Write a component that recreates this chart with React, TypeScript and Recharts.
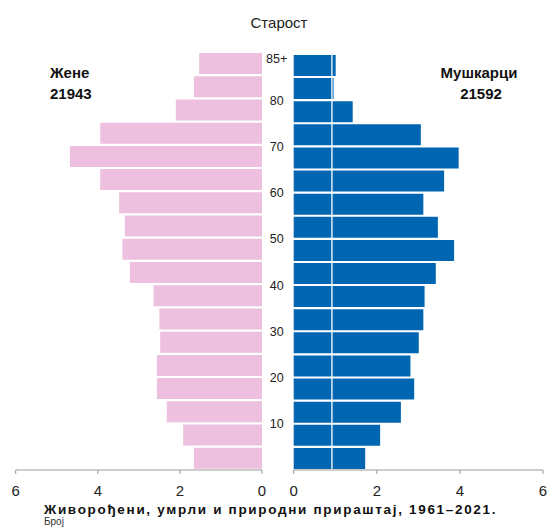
import { BarChart, Bar, XAxis, YAxis, ReferenceLine } from 'recharts';

const ageGroups = [
  '0-4', '5-9', '10-14', '15-19', '20-24', '25-29', '30-34', '35-39', '40-44',
  '45-49', '50-54', '55-59', '60-64', '65-69', '70-74', '75-79', '80-84', '85+',
];
const women = [1.66, 1.92, 2.32, 2.56, 2.56, 2.48, 2.5, 2.64, 3.22, 3.4, 3.34, 3.48, 3.94, 4.68, 3.94, 2.1, 1.66, 1.53];
const men = [1.72, 2.08, 2.58, 2.9, 2.81, 3.01, 3.12, 3.15, 3.42, 3.86, 3.47, 3.12, 3.62, 3.97, 3.06, 1.42, 0.96, 1.01];
const xTicks = [0, 2, 4, 6];
// age label shown for a group (at the lower edge of its row), empty = no label
const ageLabels: Record<string, string> = {
  '85+': '85+', '80-84': '80', '70-74': '70', '60-64': '60', '50-54': '50',
  '40-44': '40', '30-34': '30', '20-24': '20', '10-14': '10',
};

const data = ageGroups.map((age, i) => ({ age, women: women[i], men: men[i] }));

const FONT = '"Liberation Sans", Arial, Helvetica, sans-serif';
const PINK = '#ecc0de';
const BLUE = '#0066b1';
const AXIS = '#9a9a9a';

const AgeTick = (props: any) => {
  const { x, y, payload } = props;
  const label = ageLabels[payload.value];
  if (!label) return null;
  const top = payload.value === '85+';
  return (
    <text x={x - 17} y={y} dy={top ? -3 : 16} textAnchor="middle" fontSize={12.5} fill="#222" fontFamily={FONT}>
      {label}
    </text>
  );
};

const xTickStyle = { fontSize: 15, fill: '#222', fontFamily: FONT };

export default function App() {
  return (
    <div style={{ position: 'absolute', left: 0, top: 0, width: 550, height: 528, background: '#fff', fontFamily: FONT }}>
      <div style={{ position: 'absolute', left: 0, top: 0 }}>
        <BarChart
          width={280}
          height={500}
          data={data}
          layout="vertical"
          margin={{ top: 52, right: 18, bottom: 0, left: 15.7 }}
          barCategoryGap={1}
        >
          <XAxis
            type="number"
            domain={[0, 6]}
            ticks={xTicks}
            reversed
            height={30}
            stroke={AXIS}
            tickSize={4}
            tickMargin={11}
            tick={xTickStyle}
            interval={0}
          />
          <YAxis type="category" dataKey="age" hide reversed />
          <Bar dataKey="women" fill={PINK} isAnimationActive={false} />
        </BarChart>
      </div>
      <div style={{ position: 'absolute', left: 262, top: 0 }}>
        <BarChart
          width={288}
          height={500}
          data={data}
          layout="vertical"
          margin={{ top: 54, right: 7, bottom: 0, left: 0 }}
          barCategoryGap={1}
        >
          <XAxis
            type="number"
            domain={[0, 6]}
            ticks={xTicks}
            height={30}
            stroke={AXIS}
            tickSize={4}
            tickMargin={11}
            tick={xTickStyle}
            interval={0}
          />
          <YAxis
            type="category"
            dataKey="age"
            reversed
            width={31.7}
            axisLine={false}
            tickLine={false}
            tickSize={0}
            tickMargin={0}
            tick={<AgeTick />}
            interval={0}
          />
          <Bar dataKey="men" fill={BLUE} isAnimationActive={false} />
          <ReferenceLine x={0.92} stroke="#fff" strokeWidth={1.3} />
        </BarChart>
      </div>
      <svg width={550} height={528} style={{ position: 'absolute', left: 0, top: 0, pointerEvents: 'none' }} fontFamily={FONT}>
        <text x={279} y={27.5} textAnchor="middle" fontSize={15} fill="#222">Старост</text>
        <text x={50} y={78} fontSize={15} fontWeight="bold" fill="#111">Жене</text>
        <text x={50} y={99} fontSize={15} fontWeight="bold" fill="#111">21943</text>
        <text x={479} y={78} textAnchor="middle" fontSize={15} fontWeight="bold" fill="#111">Мушкарци</text>
        <text x={481} y={99} textAnchor="middle" fontSize={15} fontWeight="bold" fill="#111">21592</text>
        <text x={44} y={513.5} fontSize={13.5} fontWeight="bold" fill="#111" letterSpacing={1.68}>
          Живорођени, умрли и природни прираштај, 1961–2021.
        </text>
        <text x={44} y={525} fontSize={10} fill="#333">Број</text>
      </svg>
    </div>
  );
}
